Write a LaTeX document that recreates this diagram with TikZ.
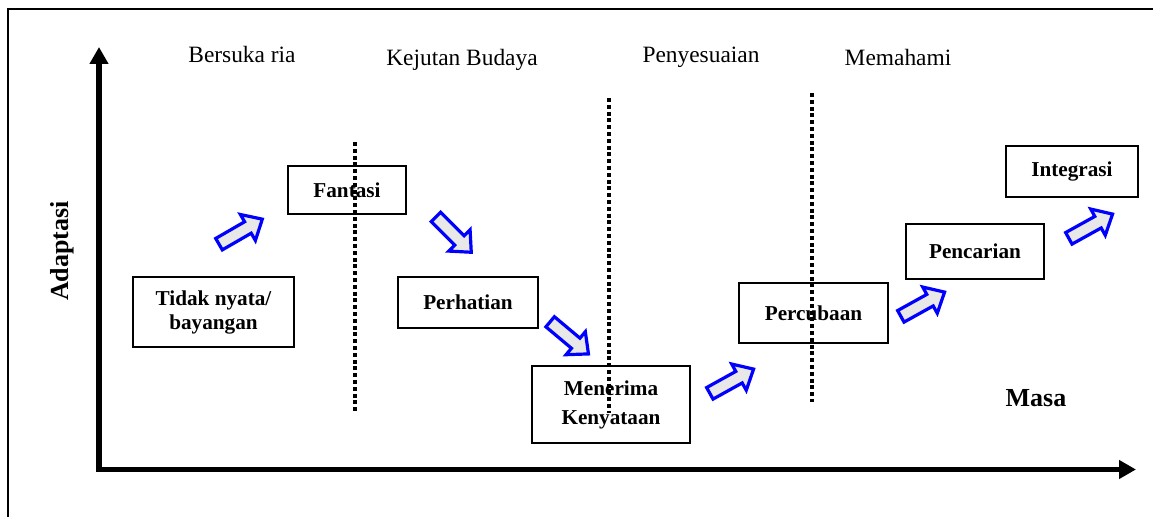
\documentclass[tikz,border=0pt]{standalone}
\usepackage{fontspec}
\setmainfont{Liberation Serif}
\usetikzlibrary{arrows.meta,shapes.arrows}
\tikzset{>=latex}
\tikzset{
	stagebox/.style={draw, line width=0.8pt, align=center, inner sep=0pt,
			font=\bfseries\fontsize{10.6}{12}\selectfont},
	phase/.style={anchor=base, font=\fontsize{11.7}{14}\selectfont},
	shift arrow/.style={single arrow, draw=blue, fill=gray!18, line width=1.6pt,
			minimum height=25pt, inner sep=2.5pt, single arrow head extend=4.2pt,
			single arrow tip angle=84, rotate=#1},
	divider/.style={line width=1.6pt, dash pattern=on 2pt off 1.4pt}
}

\begin{document}
\begin{tikzpicture}[x=0.5pt,y=-0.5pt]
		\useasboundingbox (0,0) rectangle (1153,517);
		\draw[line width=0.75pt] (8,517) -- (8,9) -- (1153,9);
		% axes
		\coordinate (origin) at (99,469.5);
		\coordinate (ytip) at (99,47);
		\coordinate (xtip) at (1136,469.5);
		\draw[line width=2.8pt, {Triangle[width=9pt,length=8.5pt]}-{Triangle[width=9pt,length=8.5pt]}] (ytip) -- (origin) -- (xtip);
		\node[rotate=90, font=\bfseries\fontsize{13}{15}\selectfont] (adaptasi) at (62,251) {Adaptasi};
		\node[anchor=base, font=\bfseries\fontsize{13}{15}\selectfont] (masa) at (1036,407) {Masa};
		% phases
		\node[phase] (bersuka) at (242,63) {Bersuka ria};
		\node[phase] (kejutan) at (462,66) {Kejutan Budaya};
		\node[phase] (penyesuaian) at (701,63) {Penyesuaian};
		\node[phase] (memahami) at (898,66) {Memahami};
		% stages
		\node[stagebox, minimum width=80.5pt, minimum height=35pt] (tidak) at (213.5,312) {Tidak nyata/\\bayangan};
		\node[stagebox, minimum width=59pt, minimum height=24pt] (fantasi) at (347,190) {Fantasi};
		\node[stagebox, minimum width=70pt, minimum height=25.5pt] (perhatian) at (468,302.5) {Perhatian};
		\node[stagebox, minimum width=79pt, minimum height=38.5pt] (menerima) at (611,404.5) {Menerima\\[2.5pt]Kenyataan};
		\node[stagebox, minimum width=74.5pt, minimum height=30pt] (percubaan) at (813.5,313) {Percubaan};
		\node[stagebox, minimum width=69pt, minimum height=27.5pt] (pencarian) at (975,251.5) {Pencarian};
		\node[stagebox, minimum width=66pt, minimum height=25.5pt] (integrasi) at (1072,171.5) {Integrasi};
		% blue arrows
		\node[shift arrow=30] (upfantasi) at (237.5,233.5) {};
		\node[shift arrow=-45] (downperhatian) at (451,232) {};
		\node[shift arrow=-40] (downmenerima) at (566.5,335.5) {};
		\node[shift arrow=29] (uppercubaan) at (728.5,383) {};
		\node[shift arrow=29] (uppencarian) at (919.5,306) {};
		\node[shift arrow=29] (upintegrasi) at (1087.5,228) {};
		% dividers
		\draw[divider] (355,142) -- (355,412);
		\draw[divider] (609,98) -- (609,413);
		\draw[divider] (812,93) -- (812,402);
	\end{tikzpicture}
\end{document}
